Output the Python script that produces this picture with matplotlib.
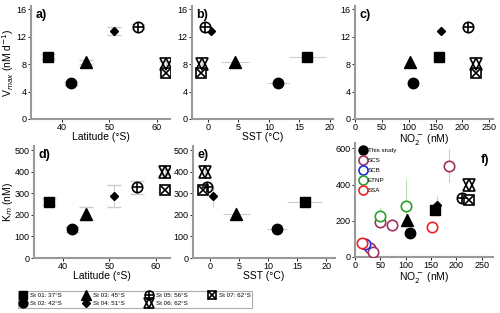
import matplotlib.pyplot as plt
from matplotlib.lines import Line2D

plt.rcParams['font.family'] = ['Liberation Sans', 'DejaVu Sans']
plt.rcParams['font.size'] = 7

# station data
stations = ['St 01: 37°S', 'St 02: 42°S', 'St 03: 45°S', 'St 04: 51°S',
            'St 05: 56°S', 'St 06: 62°S', 'St 07: 62°S']
latitude = [37, 42, 45, 51, 56, 62, 62]
sst = [16.3, 11.5, 4.5, 0.5, -0.5, -1.0, -1.2]
sst_err = [3.0, 1.8, 2.3, 0.3, 0.3, 0.2, 0.2]
no2 = [157, 108, 102, 161, 211, 225, 225]
vmax = [9.1, 5.2, 8.3, 12.8, 13.5, 8.0, 6.7]
vmax_err = [0.4, 0.2, 0.3, 0.6, 0.3, 0.5, 0.3]
km = [262, 133, 205, 287, 328, 400, 316]
km_err = [15, 10, 30, 52, 30, 15, 10]

# other studies (panel f)
scs_no2 = [50, 72, 185, 30, 35]
scs_km = [195, 175, 505, 50, 25]
scs_err = [20, 30, 90, 10, 10]
scb_no2 = [20]
scb_km = [72]
etnp_no2 = [50, 100]
etnp_km = [228, 280]
etnp_err = [50, 150]
ssa_no2 = [14, 152]
ssa_km = [75, 168]

ecol = '#cccccc'


def marker_lines(i, s=1.0):
    # each station symbol as a list of Line2D keyword sets
    if i == 0:
        return [dict(marker='s', color='k', ms=7.5 * s)]
    if i == 1:
        return [dict(marker='o', color='k', ms=7.5 * s)]
    if i == 2:
        return [dict(marker='^', color='k', ms=8 * s)]
    if i == 3:
        return [dict(marker='D', color='k', ms=4.5 * s)]
    if i == 4:
        return [dict(marker='o', mfc='white', mec='k', mew=1.2, ms=7.5 * s),
                dict(marker='+', color='k', mew=1.2, ms=7.5 * s)]
    if i == 5:
        return [dict(marker='^', mfc='none', mec='k', mew=1.2, ms=8 * s),
                dict(marker='v', mfc='none', mec='k', mew=1.2, ms=8 * s)]
    return [dict(marker='s', mfc='white', mec='k', mew=1.2, ms=7 * s),
            dict(marker='x', color='k', mew=1.2, ms=6 * s)]


def station_marker(ax, x, y, i):
    for k, kw in enumerate(marker_lines(i)):
        ax.plot(x, y, ls='', zorder=5 + k, **kw)


def legend_handle(i):
    hs = [Line2D([], [], ls='', **kw) for kw in marker_lines(i, 0.85)]
    return hs[0] if len(hs) == 1 else tuple(hs)


def style(ax):
    ax.patch.set_alpha(0)
    for s in ['top', 'right']:
        ax.spines[s].set_visible(False)
    for s in ['left', 'bottom']:
        ax.spines[s].set_color('#999999')
        ax.spines[s].set_linewidth(1.5)
    ax.tick_params(length=2, width=0.6, labelsize=6.5, pad=1.2)


fig = plt.figure(figsize=(5.0, 3.13), dpi=100)
W, H = 500.0, 313.0


def add_ax(l, t, r, b):
    return fig.add_axes([l / W, 1 - b / H, (r - l) / W, (b - t) / H])


ax_a = add_ax(31, 6, 170, 119)
ax_b = add_ax(192, 6, 333, 119)
ax_c = add_ax(355, 6, 493, 119)
ax_d = add_ax(34, 146, 170, 258)
ax_e = add_ax(193, 146, 335, 258)
ax_f = add_ax(355, 143, 493, 257)

lab_kw = dict(fontsize=7.5, labelpad=0)

# panel a
for i in range(7):
    ax_a.errorbar(latitude[i], vmax[i], yerr=vmax_err[i], fmt='none', ecolor=ecol,
                  capsize=5, elinewidth=0.8, zorder=2)
    station_marker(ax_a, latitude[i], vmax[i], i)
ax_a.set_xlim(33.5, 62.8)
ax_a.set_ylim(0, 16.5)
ax_a.set_yticks([0, 4, 8, 12, 16])
ax_a.set_xticks([40, 50, 60])
ax_a.set_xlabel('Latitude (°S)', **lab_kw)
ax_a.set_ylabel('V$_{max}$ (nM d$^{-1}$)', **lab_kw)

# panel b
for i in range(7):
    ax_b.errorbar(sst[i], vmax[i], xerr=sst_err[i], yerr=vmax_err[i], fmt='none',
                  ecolor=ecol, capsize=0, elinewidth=0.8, zorder=2)
    station_marker(ax_b, sst[i], vmax[i], i)
ax_b.set_xlim(-2.6, 20.5)
ax_b.set_ylim(0, 16.5)
ax_b.set_yticks([0, 4, 8, 12, 16])
ax_b.set_xticks([0, 5, 10, 15, 20])
ax_b.set_xlabel('SST (°C)', **lab_kw)

# panel c
for i in range(7):
    station_marker(ax_c, no2[i], vmax[i], i)
ax_c.set_xlim(0, 257)
ax_c.set_ylim(0, 16.5)
ax_c.set_yticks([0, 4, 8, 12, 16])
ax_c.set_xticks([0, 50, 100, 150, 200, 250])
ax_c.set_xlabel('NO$_2^-$ (nM)', **lab_kw)

# panel d
for i in range(7):
    ax_d.errorbar(latitude[i], km[i], yerr=km_err[i], fmt='none', ecolor=ecol,
                  capsize=5, elinewidth=0.8, zorder=2)
    station_marker(ax_d, latitude[i], km[i], i)
ax_d.set_xlim(33.8, 63)
ax_d.set_ylim(0, 520)
ax_d.set_yticks([0, 100, 200, 300, 400, 500])
ax_d.set_xticks([40, 50, 60])
ax_d.set_xlabel('Latitude (°S)', **lab_kw)
ax_d.set_ylabel('K$_{m}$ (nM)', **lab_kw)

# panel e
for i in range(7):
    ax_e.errorbar(sst[i], km[i], xerr=sst_err[i], yerr=km_err[i], fmt='none',
                  ecolor=ecol, capsize=0, elinewidth=0.8, zorder=2)
    station_marker(ax_e, sst[i], km[i], i)
ax_e.set_xlim(-3, 21.5)
ax_e.set_ylim(0, 520)
ax_e.set_yticks([0, 100, 200, 300, 400, 500])
ax_e.set_xticks([0, 5, 10, 15, 20])
ax_e.set_xlabel('SST (°C)', **lab_kw)

# panel f
ax_f.errorbar(scs_no2, scs_km, yerr=scs_err, fmt='none', ecolor='#e8b8c8',
              elinewidth=0.8, zorder=1)
ax_f.errorbar(etnp_no2, etnp_km, yerr=etnp_err, fmt='none', ecolor='#b8e0b0',
              elinewidth=0.8, zorder=1)
ax_f.errorbar(no2[3], km[3], yerr=km_err[3], fmt='none', ecolor=ecol,
              elinewidth=0.8, zorder=1)
open_kw = dict(mfc='white', mew=1.2, ms=7.5, ls='', zorder=3)
ax_f.plot(scs_no2, scs_km, 'o', mec='#a0305f', **open_kw)
ax_f.plot(scb_no2, scb_km, 'o', mec='#1f2fe0', **open_kw)
ax_f.plot(etnp_no2, etnp_km, 'o', mec='#2ca02c', **open_kw)
ax_f.plot(ssa_no2, ssa_km, 'o', mec='#ee2222', **open_kw)
for i in range(7):
    station_marker(ax_f, no2[i], km[i], i)
leg_kw = dict(ls='', marker='o', mfc='white', mew=1.2, ms=6.5)
h_f = [Line2D([], [], ls='', marker='o', color='k', ms=6.5),
       Line2D([], [], mec='#a0305f', **leg_kw),
       Line2D([], [], mec='#1f2fe0', **leg_kw),
       Line2D([], [], mec='#2ca02c', **leg_kw),
       Line2D([], [], mec='#ee2222', **leg_kw)]
ax_f.legend(h_f, ['This study', 'SCS', 'SCB', 'ETNP', 'SSA'],
            loc='upper left', bbox_to_anchor=(0.0, 1.0), frameon=False,
            fontsize=4.5, handletextpad=0.3, labelspacing=0.75,
            handlelength=1.0, borderpad=0.2)
ax_f.set_xlim(0, 272)
ax_f.set_ylim(0, 630)
ax_f.set_yticks([0, 200, 400, 600])
ax_f.set_xticks([0, 50, 100, 150, 200, 250])
ax_f.set_xlabel('NO$_2^-$ (nM)', **lab_kw)

for ax in [ax_a, ax_b, ax_c, ax_d, ax_e, ax_f]:
    style(ax)

labels = {ax_a: 'a)', ax_b: 'b)', ax_c: 'c)', ax_d: 'd)', ax_e: 'e)'}
for ax, lab in labels.items():
    ax.text(0.03, 0.97, lab, transform=ax.transAxes, fontsize=9, fontweight='bold',
            va='top', ha='left')
ax_f.text(0.97, 0.9, 'f)', transform=ax_f.transAxes, fontsize=9, fontweight='bold',
          va='top', ha='right')

# station legend
handles = [legend_handle(i) for i in range(7)]
leg = fig.legend(handles, stations, loc='lower left',
                 bbox_to_anchor=(18 / W, 1 - 308 / H), ncol=4, fontsize=4.5,
                 frameon=True, fancybox=False, handletextpad=0.4,
                 columnspacing=3.4, labelspacing=0.5, handlelength=1.2,
                 borderpad=0.25, borderaxespad=0)
leg.get_frame().set_edgecolor('#999999')
leg.get_frame().set_linewidth(0.8)

fig.savefig('out.png', dpi=100)
